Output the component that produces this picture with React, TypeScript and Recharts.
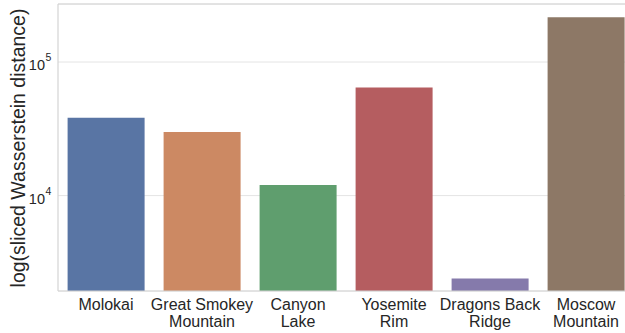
import React from "react";
import { BarChart, Bar, Cell, XAxis, YAxis, CartesianGrid, ReferenceLine } from "recharts";

// sites along the x axis, with the two-line labels drawn under each bar
const sites = ["Molokai", "Great Smokey Mountain", "Canyon Lake", "Yosemite Rim", "Dragons Back Ridge", "Moscow Mountain"];
const siteLines = [["Molokai"], ["Great Smokey", "Mountain"], ["Canyon", "Lake"], ["Yosemite", "Rim"], ["Dragons Back", "Ridge"], ["Moscow", "Mountain"]];
const distances = [38200, 29900, 12000, 64500, 2390, 216000];
const barColors = ["#5975a4", "#cc8963", "#5f9e6e", "#b55d60", "#857aab", "#8d7866"];

const yDomain = [1930, 272000];
const yTicks = [10000, 100000];

const FONT = '"Liberation Sans", Arial, sans-serif';
const TEXT = "#262626";
const SPINE = "#d4d4d4";

const data = sites.map((site, i) => ({ site, distance: distances[i] }));

// tick props arrive 8px off the axis (tickSize 6 + tickMargin 2)
function SiteTick(props: any) {
  const { x, y, payload } = props;
  const lines = siteLines[payload.index] ?? [payload.value];
  return (
    <text x={x} y={y} textAnchor="middle" fontFamily={FONT} fontSize={16} fill={TEXT}>
      {lines.map((line: string, i: number) => (
        <tspan key={i} x={x} y={y + 11 + i * 16.7}>
          {line}
        </tspan>
      ))}
    </text>
  );
}

function PowerTick(props: any) {
  const { x, y, payload } = props;
  const exp = Math.round(Math.log10(payload.value));
  return (
    <g fontFamily={FONT} fill={TEXT}>
      <text x={x - 5} y={y + 8.3} textAnchor="end" fontSize={14.5}>
        10
      </text>
      <text x={x - 4.5} y={y - 0.7} textAnchor="start" fontSize={10.5}>
        {exp}
      </text>
    </g>
  );
}

function YTitle() {
  return (
    <text
      x={24.5}
      y={148}
      transform="rotate(-90, 24.5, 148)"
      textAnchor="middle"
      fontFamily={FONT}
      fontSize={19.5}
      fill={TEXT}
    >
      log(sliced Wasserstein distance)
    </text>
  );
}

export default function App() {
  return (
    <div style={{ position: "absolute", left: 0, top: 0, width: 625, height: 333, overflow: "hidden", background: "#fff" }}>
      <BarChart
        width={634}
        height={333}
        data={data}
        margin={{ top: 4, right: 0, bottom: 0, left: 0 }}
        barCategoryGap="10%"
      >
        <CartesianGrid vertical={false} stroke="#e4e4e4" strokeWidth={1} />
        <XAxis
          dataKey="site"
          height={42}
          interval={0}
          tickLine={false}
          axisLine={{ stroke: SPINE, strokeWidth: 1.2 }}
          tick={<SiteTick />}
        />
        <YAxis
          width={58}
          scale="log"
          domain={yDomain}
          ticks={yTicks}
          allowDataOverflow
          tickLine={false}
          axisLine={{ stroke: SPINE, strokeWidth: 1.2 }}
          tick={<PowerTick />}
        />
        <ReferenceLine y={yDomain[1]} stroke={SPINE} strokeWidth={1.2} ifOverflow="visible" />
        <Bar dataKey="distance" isAnimationActive={false}>
          {data.map((d, i) => (
            <Cell key={d.site} fill={barColors[i]} />
          ))}
        </Bar>
        <YTitle />
      </BarChart>
    </div>
  );
}
